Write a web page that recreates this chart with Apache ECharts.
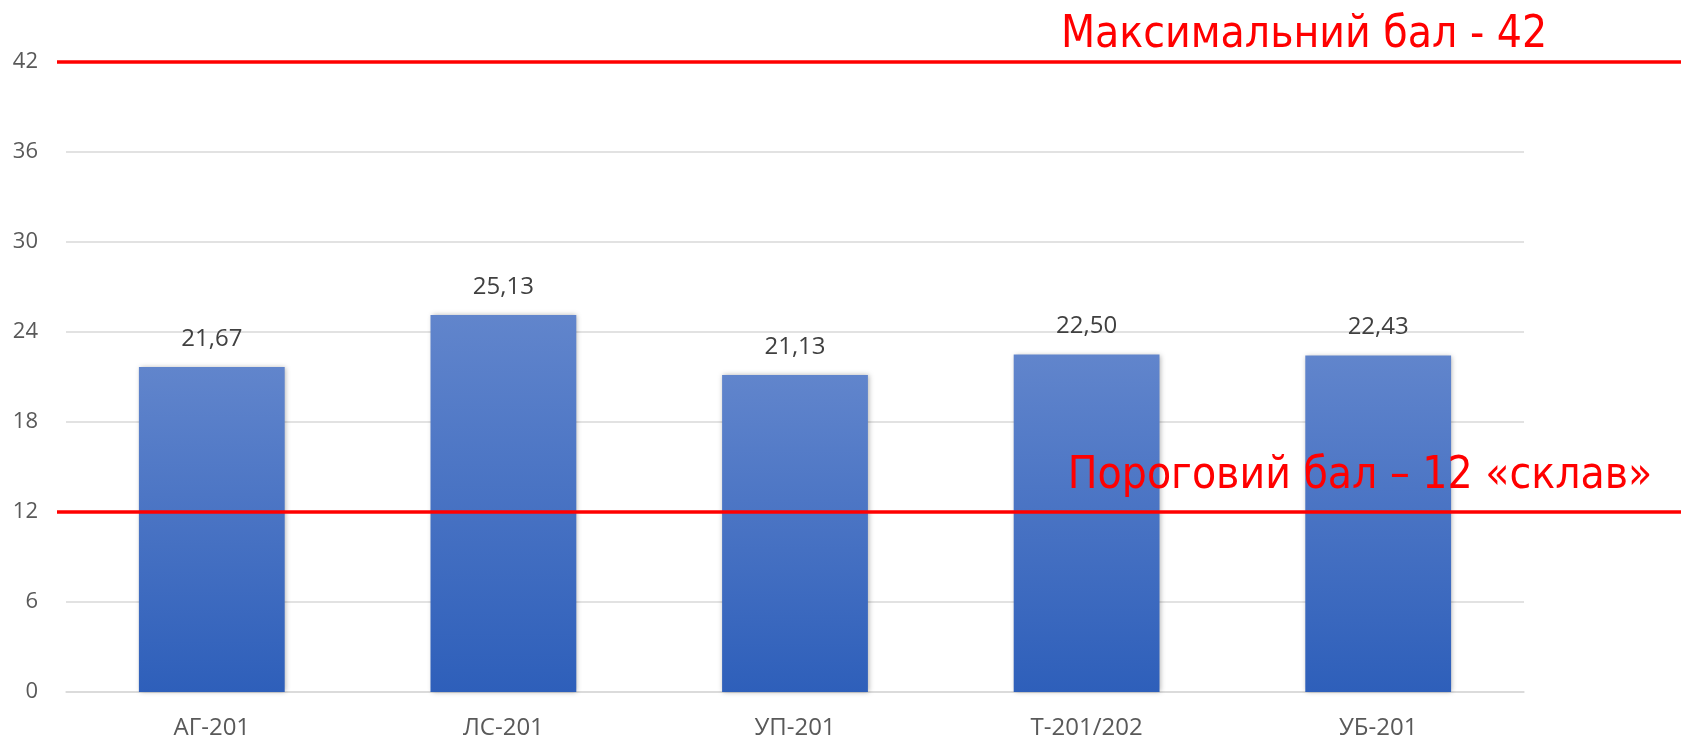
<!DOCTYPE html>
<html><head><meta charset="utf-8">
<script src="https://cdn.jsdelivr.net/npm/echarts@6/dist/echarts.min.js"></script>
<style>html,body{margin:0;padding:0;background:#fff}#c{width:1681px;height:742px}</style>
</head><body><div id="c"></div>
<script>
const categories = ['АГ-201', 'ЛС-201', 'УП-201', 'Т-201/202', 'УБ-201'];
const scores = [21.67, 25.13, 21.13, 22.50, 22.43];
const yTicks = [0, 6, 12, 18, 24, 30, 36, 42];
const maxScore = 42;
const thresholdScore = 12;
const maxText = 'Максимальний бал - 42';
const thresholdText = 'Пороговий бал – 12 «склав»';

const chart = echarts.init(document.getElementById('c'));
const font = '"Open Sans", "Noto Sans", sans-serif';
chart.setOption({
  animation: false,
  grid: { left: 66, right: 157, top: 62, bottom: 50 },
  xAxis: {
    type: 'category', data: categories,
    axisLine: { lineStyle: { color: '#d9d9d9', width: 1.5 } },
    axisTick: { show: false },
    axisLabel: { color: '#595959', fontSize: 24, fontFamily: font, margin: 24 }
  },
  yAxis: {
    type: 'value', min: yTicks[0], max: yTicks[yTicks.length - 1], interval: 6,
    axisLine: { show: false }, axisTick: { show: false },
    splitLine: { lineStyle: { color: '#d9d9d9', width: 1.5 } },
    axisLabel: { color: '#595959', fontSize: 22, fontFamily: font, margin: 28 }
  },
  series: [{
    type: 'bar', data: scores, barWidth: '50%',
    itemStyle: {
      color: new echarts.graphic.LinearGradient(0, 0, 0, 1, [
        { offset: 0, color: '#6185cc' }, { offset: 1, color: '#2e5fba' }
      ]),
      shadowBlur: 5, shadowColor: 'rgba(0,0,0,0.3)', shadowOffsetX: 1
    },
    label: {
      show: true, position: 'top', distance: 16, color: '#404040', fontSize: 24, fontFamily: font,
      formatter: p => p.value.toFixed(2).replace('.', ',')
    }
  }]
});

const yMax = chart.convertToPixel({ yAxisIndex: 0 }, maxScore);
const yThr = chart.convertToPixel({ yAxisIndex: 0 }, thresholdScore);
const titleFont = '"DejaVu Sans Condensed", "Noto Sans", sans-serif';
chart.setOption({
  graphic: [
    { type: 'line', shape: { x1: 57, y1: yMax, x2: 1681, y2: yMax }, style: { stroke: '#ff0000', lineWidth: 3.5 }, z: 10 },
    { type: 'line', shape: { x1: 57, y1: yThr, x2: 1681, y2: yThr }, style: { stroke: '#ff0000', lineWidth: 3.5 }, z: 10 },
    { type: 'text', x: 1304, y: yMax - 26, style: { text: maxText, fill: '#ff0000', font: '44px ' + titleFont, align: 'center', verticalAlign: 'middle' }, z: 10 },
    { type: 'text', x: 1360, y: yThr - 35, style: { text: thresholdText, fill: '#ff0000', font: '44px ' + titleFont, align: 'center', verticalAlign: 'middle' }, z: 10 }
  ]
});
</script></body></html>
